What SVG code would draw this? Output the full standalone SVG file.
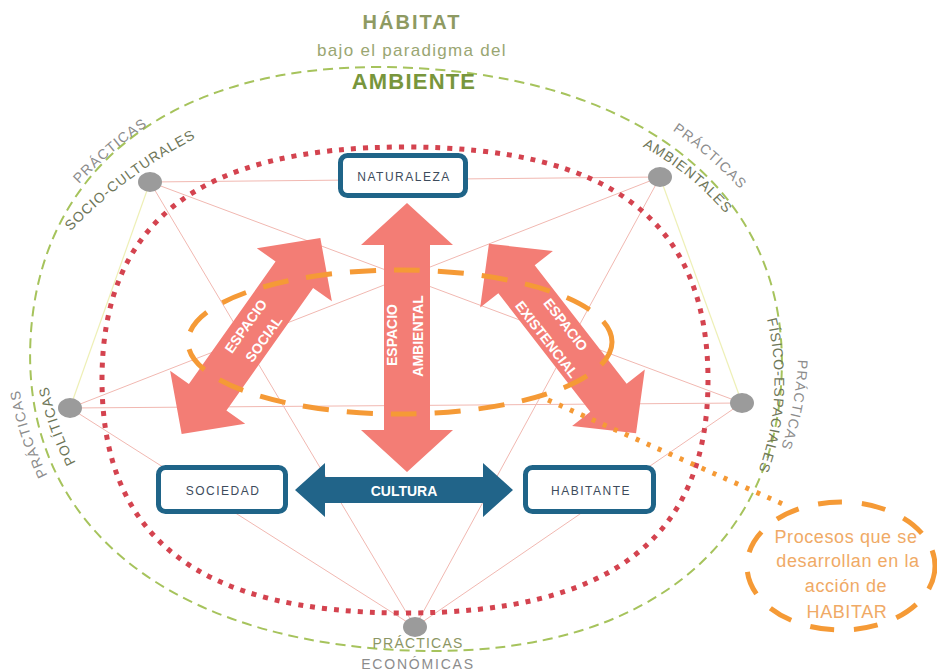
<svg xmlns="http://www.w3.org/2000/svg" width="937" height="672" viewBox="0 0 937 672">
<style>
.thinp{stroke:#f1b8b1;stroke-width:1;fill:none}
.thiny{stroke:#eef0b6;stroke-width:1.2;fill:none}
.green{fill:none;stroke:#a6c35c;stroke-width:2;stroke-dasharray:10 6}
.red{fill:none;stroke:#d4434f;stroke-width:5;stroke-dasharray:5 7}
.oval{fill:none;stroke:#f59a36;stroke-width:5;stroke-dasharray:26 18}
.dots{fill:none;stroke:#f59a36;stroke-width:5;stroke-dasharray:4 8}
.arrow{fill:#f37d75}
.gdot{fill:#9b9b9b}
.box{fill:#fff;stroke:#1f6488;stroke-width:5}
.bt{font-family:"Liberation Sans",Arial,sans-serif;font-size:12px;fill:#3d4b5c;text-anchor:middle;letter-spacing:1.5px}
.at{font-family:"Liberation Sans",Arial,sans-serif;font-size:14px;font-weight:bold;fill:#fff;text-anchor:middle}
.pl{font-family:"Liberation Sans",Arial,sans-serif;font-size:14px;fill:#8c8c8c;letter-spacing:1.2px}
.pd{font-family:"Liberation Sans",Arial,sans-serif;font-size:14px;fill:#6e7658;letter-spacing:1px}
.ht{font-family:"Liberation Sans",Arial,sans-serif;font-size:18px;fill:#f0aa66;text-anchor:middle;letter-spacing:0.6px}
</style>
<defs>
<path id="p-soc1" d="M 60 206 A 400 400 0 0 1 173 110"/>
<path id="p-soc2" d="M 54 249 A 500 500 0 0 1 218 127"/>
<path id="p-amb1" d="M 657 120 A 400 400 0 0 1 753 204"/>
<path id="p-amb2" d="M 630 140 A 300 300 0 0 1 735 225"/>
<path id="p-pol1" d="M 49 478 A 300 300 0 0 1 19 386"/>
<path id="p-pol2" d="M 78 467 A 300 300 0 0 1 47 381"/>
<path id="p-fis1" d="M 798 357 A 300 300 0 0 1 780 451"/>
<path id="p-fis2" d="M 764 308 A 260 260 0 0 1 754 482"/>
<path id="dbl" d="M -120 0 L -75 -46 L -75 -23 L 75 -23 L 75 -46 L 120 0 L 75 46 L 75 23 L -75 23 L -75 46 Z"/>
</defs>
<rect width="937" height="672" fill="#fff"/>

<g id="connectors">
  <line class="thinp" x1="150" y1="182" x2="415" y2="627"/>
  <line class="thinp" x1="150" y1="182" x2="742" y2="403"/>
  <line class="thinp" x1="660" y1="177" x2="70" y2="408"/>
  <line class="thinp" x1="660" y1="177" x2="415" y2="627"/>
  <line class="thinp" x1="70" y1="408" x2="742" y2="403"/>
  <line class="thinp" x1="150" y1="182" x2="660" y2="177"/>
  <line class="thinp" x1="70" y1="408" x2="415" y2="627"/>
  <line class="thinp" x1="742" y1="403" x2="415" y2="627"/>
  <line class="thiny" x1="150" y1="182" x2="70" y2="408"/>
  <line class="thiny" x1="660" y1="177" x2="742" y2="403"/>
  <path class="green" transform="rotate(4 406 359)" d="M 782 359 C 782 539.4, 638.8 650, 406 650 C 173.2 650, 30 539.4, 30 359 C 30 178.6, 173.2 68, 406 68 C 638.8 68, 782 178.6, 782 359 Z"/>
  <path class="red" d="M 708 380 C 708 538.4, 611 613, 405 613 C 199 613, 102 538.4, 102 380 C 102 221.6, 199 147, 405 147 C 611 147, 708 221.6, 708 380 Z"/>
</g>

<g id="title">
  <text x="412" y="29" font-family="Liberation Sans, Arial, sans-serif" font-size="20" font-weight="bold" fill="#8e9a62" text-anchor="middle" letter-spacing="2">HÁBITAT</text>
  <text x="412" y="56" font-family="Liberation Sans, Arial, sans-serif" font-size="17" fill="#9aa672" text-anchor="middle" letter-spacing="1.3">bajo el paradigma del</text>
  <text x="414" y="89" font-family="Liberation Sans, Arial, sans-serif" font-size="22" font-weight="bold" fill="#78963c" text-anchor="middle" letter-spacing="1.2">AMBIENTE</text>
</g>

<g id="espacio-ambiental">
  <path class="arrow" transform="translate(407 337.5) rotate(90)" d="M -134.5 0 L -92.5 -46 L -92.5 -23 L 92.5 -23 L 92.5 -46 L 134.5 0 L 92.5 46 L 92.5 23 L -92.5 23 L -92.5 46 Z"/>
  <text class="at" transform="translate(397 335) rotate(-90)">ESPACIO</text>
  <text class="at" transform="translate(423 336) rotate(-90)">AMBIENTAL</text>
</g>

<g id="espacio-social" transform="translate(251 336) rotate(-54.7)">
  <use href="#dbl" class="arrow"/>
  <text class="at" x="5" y="-5">ESPACIO</text>
  <text class="at" x="5" y="17">SOCIAL</text>
</g>

<g id="espacio-existencial" transform="translate(562.5 338.5) rotate(52.2)">
  <use href="#dbl" class="arrow"/>
  <text class="at" x="-9" y="-6">ESPACIO</text>
  <text class="at" x="-9" y="18">EXISTENCIAL</text>
</g>

<g id="procesos-oval">
  <ellipse class="oval" cx="400" cy="342" rx="212" ry="72"/>
  <line class="dots" x1="548" y1="400" x2="785" y2="505"/>
</g>

<g id="cultura">
  <path fill="#216489" d="M 295 490 L 325 463 L 325 477 L 483 477 L 483 463 L 513 490 L 483 517 L 483 503 L 325 503 L 325 517 Z"/>
  <text x="404" y="496" font-family="Liberation Sans, Arial, sans-serif" font-size="14" font-weight="bold" fill="#fff" text-anchor="middle">CULTURA</text>
</g>

<g id="naturaleza">
  <rect class="box" x="340.5" y="155.5" width="125" height="40" rx="7"/>
  <text class="bt" x="404" y="181">NATURALEZA</text>
</g>
<g id="sociedad">
  <rect class="box" x="158.5" y="467.5" width="127" height="44" rx="7"/>
  <text class="bt" x="223" y="495">SOCIEDAD</text>
</g>
<g id="habitante">
  <rect class="box" x="525.5" y="467.5" width="128" height="44" rx="7"/>
  <text class="bt" x="591" y="495">HABITANTE</text>
</g>

<g id="practicas-socio-culturales">
  <ellipse class="gdot" cx="150" cy="182" rx="12" ry="10"/>
  <text class="pl"><textPath href="#p-soc1" startOffset="50%" text-anchor="middle">PRÁCTICAS</textPath></text>
  <text class="pd"><textPath href="#p-soc2" startOffset="50%" text-anchor="middle">SOCIO-CULTURALES</textPath></text>
</g>
<g id="practicas-ambientales">
  <ellipse class="gdot" cx="660" cy="177" rx="12" ry="10"/>
  <text class="pl"><textPath href="#p-amb1" startOffset="50%" text-anchor="middle">PRÁCTICAS</textPath></text>
  <text class="pd"><textPath href="#p-amb2" startOffset="50%" text-anchor="middle">AMBIENTALES</textPath></text>
</g>
<g id="practicas-politicas">
  <ellipse class="gdot" cx="70" cy="408" rx="12" ry="10"/>
  <text class="pl"><textPath href="#p-pol1" startOffset="50%" text-anchor="middle">PRÁCTICAS</textPath></text>
  <text class="pd" letter-spacing="0"><textPath href="#p-pol2" startOffset="50%" text-anchor="middle">POLÍTICAS</textPath></text>
</g>
<g id="practicas-fisico-espaciales">
  <ellipse class="gdot" cx="742" cy="403" rx="12" ry="10"/>
  <text class="pl" letter-spacing="0.5"><textPath href="#p-fis1" startOffset="50%" text-anchor="middle">PRÁCTICAS</textPath></text>
  <text class="pd"><textPath href="#p-fis2" startOffset="50%" text-anchor="middle">FÍSICO-ESPACIALES</textPath></text>
</g>
<g id="practicas-economicas">
  <ellipse class="gdot" cx="415" cy="627" rx="12" ry="10"/>
  <text x="418" y="648" font-family="Liberation Sans, Arial, sans-serif" font-size="14" fill="#8c9664" text-anchor="middle" letter-spacing="1.2">PRÁCTICAS</text>
  <text x="418" y="669" font-family="Liberation Sans, Arial, sans-serif" font-size="14" fill="#8c8c8c" text-anchor="middle" letter-spacing="1.8">ECONÓMICAS</text>
</g>

<g id="habitar">
  <ellipse class="oval" cx="841" cy="566" rx="94" ry="64" style="stroke-dasharray:24 20"/>
  <text class="ht" x="846" y="543">Procesos que se</text>
  <text class="ht" x="848" y="567">desarrollan en la</text>
  <text class="ht" x="846" y="592">acción de</text>
  <text class="ht" x="847" y="618" font-size="19" letter-spacing="1.5" fill="#f0a050">HABITAR</text>
</g>
</svg>
